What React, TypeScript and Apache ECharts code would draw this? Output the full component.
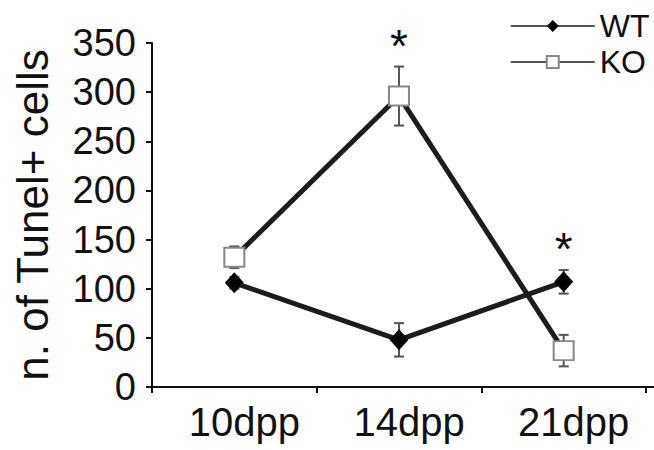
import React, { useEffect, useRef } from "react";
import * as echarts from "echarts";

const categories = ["10dpp", "14dpp", "21dpp"];
const wtMean = [106, 48, 107];
const wtErr = [6, 17, 12];
const koMean = [132, 296, 37];
const koErr = [11, 30, 16];
const significance = ["", "*", "*"];
const yTicks = { min: 0, max: 350, interval: 50 };

const FONT = "Liberation Sans, Arial, Helvetica, sans-serif";
const W = 654;
const H = 450;
const GRID = { left: 152, top: 43, right: 8, bottom: 63 };

export default function App() {
  const ref = useRef<HTMLDivElement>(null);
  useEffect(() => {
    if (!ref.current) return;
    const chart = echarts.init(ref.current, undefined, { renderer: "svg" });

    const errData = (means: number[], errs: number[]) =>
      means.map((m, i) => [i, m, errs[i]]);

    const errSeries = (name: string, means: number[], errs: number[]) => ({
      type: "custom",
      name: name + "-err",
      z: 1,
      silent: true,
      data: errData(means, errs),
      renderItem: (params: any, api: any) => {
        const x = api.value(0);
        const m = api.value(1);
        const e = api.value(2);
        const top = api.coord([x, m + e]);
        const bot = api.coord([x, m - e]);
        const hw = 5;
        const st = { stroke: "#555", lineWidth: 2 };
        return {
          type: "group",
          children: [
            { type: "line", shape: { x1: top[0], y1: top[1], x2: bot[0], y2: bot[1] }, style: st },
            { type: "line", shape: { x1: top[0] - hw, y1: top[1], x2: top[0] + hw, y2: top[1] }, style: st },
            { type: "line", shape: { x1: bot[0] - hw, y1: bot[1], x2: bot[0] + hw, y2: bot[1] }, style: st },
          ],
        };
      },
    });

    const sigData = categories.map((_, i) =>
      [i, Math.max(wtMean[i] + wtErr[i], koMean[i] + koErr[i]), significance[i]]
    );

    chart.setOption({
      animation: false,
      backgroundColor: "#fff",
      grid: GRID,
      legend: {
        orient: "vertical",
        left: 505,
        top: 5,
        itemWidth: 84,
        itemHeight: 15,
        itemGap: 4,
        data: ["WT", "KO"],
        textStyle: { fontSize: 32, fontFamily: FONT, color: "#111" },
        lineStyle: { width: 1.5 },
      },
      xAxis: {
        type: "category",
        data: categories,
        boundaryGap: true,
        axisLine: { lineStyle: { color: "#111", width: 2 } },
        axisTick: { show: true, length: 6, lineStyle: { color: "#111", width: 2 } },
        axisLabel: {
          fontSize: 40,
          fontFamily: FONT,
          color: "#111",
          margin: 15,
          padding: [0, 0, 0, 20],
        },
      },
      yAxis: {
        type: "value",
        min: yTicks.min,
        max: yTicks.max,
        interval: yTicks.interval,
        name: "n. of Tunel+ cells",
        nameLocation: "middle",
        nameGap: 98,
        nameTextStyle: { fontSize: 44, fontFamily: FONT, color: "#111" },
        splitLine: { show: false },
        axisLine: { show: true, lineStyle: { color: "#111", width: 2 } },
        axisTick: { show: true, length: 6, lineStyle: { color: "#111", width: 2 } },
        axisLabel: {
          fontSize: 38,
          fontFamily: FONT,
          color: "#111",
          margin: 16,
          padding: [0, 0, 12, 0],
        },
      },
      graphic: [
        {
          type: "line",
          shape: { x1: W - GRID.right - 1, y1: H - GRID.bottom, x2: W, y2: H - GRID.bottom },
          style: { stroke: "#111", lineWidth: 2 },
        },
      ],
      series: [
        {
          name: "WT",
          type: "line",
          data: wtMean,
          z: 3,
          symbol: "diamond",
          symbolSize: [19, 21],
          lineStyle: { color: "#1c1c1c", width: 5 },
          itemStyle: { color: "#000", borderColor: "#000", borderWidth: 0 },
        },
        {
          name: "KO",
          type: "line",
          data: koMean,
          z: 3,
          symbol: "rect",
          symbolSize: [20, 19],
          lineStyle: { color: "#1c1c1c", width: 5 },
          itemStyle: { color: "#fff", borderColor: "#888", borderWidth: 2 },
        },
        errSeries("WT", wtMean, wtErr),
        errSeries("KO", koMean, koErr),
        {
          type: "custom",
          name: "sig",
          silent: true,
          z: 4,
          data: sigData,
          renderItem: (params: any, api: any) => {
            const i = params.dataIndex;
            const txt = significance[i];
            if (!txt) return null;
            const p = api.coord([api.value(0), api.value(1)]);
            return {
              type: "text",
              x: p[0],
              y: p[1] - 31 + 10,
              style: {
                text: txt,
                font: `46px ${FONT}`,
                fill: "#111",
                textAlign: "center",
                textVerticalAlign: "middle",
              },
            };
          },
        },
      ],
    });
    return () => chart.dispose();
  }, []);
  return (
    <div
      ref={ref}
      style={{ position: "absolute", left: 0, top: 0, width: W, height: H }}
    />
  );
}
